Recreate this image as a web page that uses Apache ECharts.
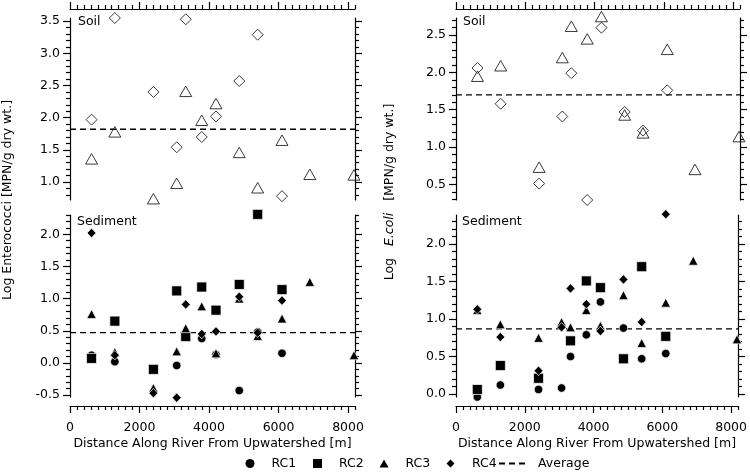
<!DOCTYPE html>
<html><head><meta charset="utf-8">
<script src="https://cdn.jsdelivr.net/npm/echarts@6/dist/echarts.min.js"></script>
<style>html,body{margin:0;padding:0;background:#fff}#c{width:750px;height:472px}</style>
</head><body><div id="c"></div>
<script>
// ---- data ----
const distances = [620, 1290, 2400, 3070, 3330, 3790, 4200, 4870, 5400, 6100, 6900, 8170];

// Enterococci, soil (hollow markers)
const entSoilDiamond  = [1.97, 3.55, 2.40, 1.54, 3.53, 1.70, 2.02, 2.57, 3.29, 0.78, null, null];
const entSoilTriangle = [1.36, 1.78, 0.74, 0.98, 2.41, 1.96, 2.22, 1.46, 0.91, 1.65, 1.12, 1.11];
const entSoilAverage = 1.82;
// Enterococci, sediment
const entSedRC1 = [0.12, 0.02, null, -0.04, null, 0.38, 0.13, -0.43, 0.48, 0.15, null, null];
const entSedRC2 = [0.07, 0.65, -0.10, 1.12, 0.41, 1.18, 0.82, 1.22, 2.31, 1.14, null, null];
const entSedRC3 = [0.76, 0.17, -0.39, 0.18, 0.54, 0.88, 0.15, 1.00, 0.42, 0.69, 1.26, 0.12];
const entSedRC4 = [2.02, 0.12, -0.47, -0.54, 0.91, 0.45, 0.49, 1.03, 0.47, 0.97, null, null];
const entSedAverage = 0.47;

// E. coli, soil (hollow markers)
const ecoSoilDiamond  = [2.06, 1.58, 0.51, 1.41, 1.99, 0.29, 2.60, 1.47, 1.22, 1.76, null, null];
const ecoSoilTriangle = [1.95, 2.09, 0.73, 2.20, 2.62, 2.45, 2.75, 1.43, 1.19, 2.31, 0.70, 1.14];
const ecoSoilAverage = 1.70;
// E. coli, sediment
const ecoSedRC1 = [-0.04, 0.12, 0.06, 0.08, 0.50, 0.79, 1.23, 0.88, 0.47, 0.54, null, null];
const ecoSedRC2 = [0.06, 0.38, 0.21, null, 0.71, 1.51, 1.42, 0.47, 1.70, 0.77, null, null];
const ecoSedRC3 = [1.12, 0.93, 0.75, 0.96, 0.89, 1.12, 0.91, 1.32, 0.68, 1.22, 1.78, 0.73];
const ecoSedRC4 = [1.13, 0.76, 0.31, 0.89, 1.41, 1.20, 0.84, 1.53, 0.96, 2.40, null, null];
const ecoSedAverage = 0.87;

// ---- tick labels ----
const xTickValues = [0, 2000, 4000, 6000, 8000];
const entSoilTicks = [1.0, 1.5, 2.0, 2.5, 3.0, 3.5];
const entSedTicks = [-0.5, 0.0, 0.5, 1.0, 1.5, 2.0];
const ecoSoilTicks = [0.5, 1.0, 1.5, 2.0, 2.5];
const ecoSedTicks = [0.0, 0.5, 1.0, 1.5, 2.0];
const legendNames = ['RC1', 'RC2', 'RC3', 'RC4', 'Average'];
const xTitle = 'Distance Along River From Upwatershed [m]';
const yTitleLeft = 'Log Enterococci [MPN/g dry wt.]';

// ---- helpers ----
const FONT = 'DejaVu Sans';
const FS = 12.5;
const axisLS = { color: '#000', width: 1.2 };
function pairs(vals) {
  const out = [];
  vals.forEach((v, i) => { if (v !== null) out.push([distances[i], v]); });
  return out;
}
function minorTicks(min, max, step, majors) {
  const out = [];
  for (let k = Math.ceil(min / step - 1e-9); k * step <= max + 1e-9; k++) {
    const v = Math.round(k * step * 1000) / 1000;
    if (!majors.some(m => Math.abs(m - v) < 1e-6)) out.push(v);
  }
  return out;
}

const XMAX = 8200;
const panels = [
  { left: 70, top: 18, width: 285, ymin: 0.72, ymax: 3.55, ticks: entSoilTicks, soil: true,
    dia: entSoilDiamond, tri: entSoilTriangle, avg: entSoilAverage },
  { left: 70, top: 215, width: 285, ymin: -0.53, ymax: 2.30, ticks: entSedTicks, soil: false,
    rc: [entSedRC1, entSedRC2, entSedRC3, entSedRC4], avg: entSedAverage },
  { left: 456, top: 18, width: 284, ymin: 0.29, ymax: 2.73, ticks: ecoSoilTicks, soil: true,
    dia: ecoSoilDiamond, tri: ecoSoilTriangle, avg: ecoSoilAverage },
  { left: 456, top: 215, width: 284, ymin: -0.04, ymax: 2.39, ticks: ecoSedTicks, soil: false,
    rc: [ecoSedRC1, ecoSedRC2, ecoSedRC3, ecoSedRC4], avg: ecoSedAverage }
];

const grid = [], xAxis = [], yAxis = [], series = [];
const xMinor = minorTicks(0, XMAX, 200, xTickValues);
const rcSymbols = [
  { symbol: 'circle', size: 8.5 },
  { symbol: 'rect', size: 10 },
  { symbol: 'triangle', size: [9.5, 9] },
  { symbol: 'diamond', size: [9, 9.5] }
];

panels.forEach((p, g) => {
  grid.push({ left: p.left, top: p.top, width: p.width, height: 182 });
  const pos = p.soil ? 'top' : 'bottom';
  xAxis.push({
    gridIndex: g, type: 'value', min: 0, max: XMAX, position: pos, offset: 9,
    axisLine: { show: true, onZero: false, lineStyle: axisLS },
    axisTick: { show: true, inside: false, length: 7, customValues: xTickValues, lineStyle: axisLS },
    axisLabel: { show: !p.soil, customValues: xTickValues, margin: 15, color: '#000', fontFamily: FONT, fontSize: FS,
                 formatter: v => String(v) },
    splitLine: { show: false },
    name: p.soil ? '' : xTitle, nameLocation: 'middle', nameGap: 31,
    nameTextStyle: { color: '#000', fontFamily: FONT, fontSize: FS }
  });
  xAxis.push({
    gridIndex: g, type: 'value', min: 0, max: XMAX, position: pos, offset: 9,
    axisLine: { show: false, onZero: false },
    axisTick: { show: true, inside: false, length: 4, customValues: xMinor, lineStyle: axisLS },
    axisLabel: { show: false }, splitLine: { show: false }
  });
  const yMinor = minorTicks(p.ymin, p.ymax, 0.1, p.ticks);
  ['left', 'right'].forEach(side => {
    yAxis.push({
      gridIndex: g, type: 'value', min: p.ymin, max: p.ymax, position: side,
      axisLine: { show: true, onZero: false, lineStyle: axisLS },
      axisTick: { show: true, inside: false, length: 7, customValues: p.ticks, lineStyle: axisLS },
      axisLabel: { show: side === 'left', customValues: p.ticks, margin: 10, color: '#000', fontFamily: FONT, fontSize: FS,
                   formatter: v => v.toFixed(1) },
      splitLine: { show: false }
    });
    yAxis.push({
      gridIndex: g, type: 'value', min: p.ymin, max: p.ymax, position: side,
      axisLine: { show: false, onZero: false },
      axisTick: { show: true, inside: false, length: 4, customValues: yMinor, lineStyle: axisLS },
      axisLabel: { show: false }, splitLine: { show: false }
    });
  });
  const xi = 2 * g, yi = 4 * g;
  series.push({
    name: 'Average', type: 'line', xAxisIndex: xi, yAxisIndex: yi,
    data: [[0, p.avg], [XMAX, p.avg]], symbol: 'none', silent: true,
    lineStyle: { color: '#000', width: 1.3, type: [6, 4] }, itemStyle: { color: '#000' }, z: 1
  });
  if (p.soil) {
    series.push({
      name: 'Soil triangle', type: 'scatter', xAxisIndex: xi, yAxisIndex: yi, clip: false,
      symbol: 'triangle', symbolSize: [12, 10.5], data: pairs(p.tri),
      itemStyle: { color: 'rgba(255,255,255,0)', borderColor: '#222', borderWidth: 0.9, opacity: 1 }, z: 3
    });
    series.push({
      name: 'Soil diamond', type: 'scatter', xAxisIndex: xi, yAxisIndex: yi, clip: false,
      symbol: 'diamond', symbolSize: [11, 11], data: pairs(p.dia),
      itemStyle: { color: 'rgba(255,255,255,0)', borderColor: '#222', borderWidth: 0.9, opacity: 1 }, z: 3
    });
  } else {
    p.rc.forEach((vals, k) => {
      series.push({
        name: legendNames[k], type: 'scatter', xAxisIndex: xi, yAxisIndex: yi, clip: false,
        symbol: rcSymbols[k].symbol, symbolSize: rcSymbols[k].size, data: pairs(vals),
        itemStyle: { color: '#000', borderColor: '#fff', borderWidth: 0.7, opacity: 1 }, z: 3 + k
      });
    });
  }
});

// legend: one component per entry so each sits where the reference has it
const legendLeft = [245.5, 313, 379.5, 446.5, 498];
const legendIconW = [9, 9, 9, 8, 29];
const legendIconH = [9, 9, 8, 8, 9];
const legendTextPad = [12, 12, 12, 12.5, 5];
const legend = legendNames.map((n, i) => ({
  data: [n], left: legendLeft[i], top: 457, padding: 0, orient: 'horizontal',
  itemWidth: legendIconW[i], itemHeight: legendIconH[i], selectedMode: false,
  itemStyle: i === 4 ? { color: 'rgba(0,0,0,0)', borderWidth: 0 } : { borderWidth: 0 },
  textStyle: { color: '#000', fontFamily: FONT, fontSize: FS, padding: [0, 0, 0, legendTextPad[i]] }
}));

const tStyle = (text, align) => ({
  text, fill: '#000', font: FS + 'px "' + FONT + '"',
  textAlign: align, align: align, textVerticalAlign: 'middle', verticalAlign: 'middle'
});
const graphic = [
  { type: 'text', x: 78, y: 22, style: tStyle('Soil', 'left') },
  { type: 'text', x: 77, y: 222, style: tStyle('Sediment', 'left') },
  { type: 'text', x: 463, y: 22, style: tStyle('Soil', 'left') },
  { type: 'text', x: 462, y: 222, style: tStyle('Sediment', 'left') },
  { type: 'text', x: 8, y: 200, rotation: Math.PI / 2, style: tStyle(yTitleLeft, 'center') },
  { type: 'text', x: 390, y: 192, rotation: Math.PI / 2,
    style: Object.assign(tStyle('Log   {i|E.coli}   [MPN/g dry wt.]', 'center'), {
      rich: { i: { fontStyle: 'italic', fontFamily: FONT, fontSize: FS, fill: '#000' } },
      fontFamily: FONT, fontSize: FS
    }) }
];

const chart = echarts.init(document.getElementById('c'), null, { renderer: 'canvas' });
chart.setOption({
  animation: false,
  backgroundColor: '#fff',
  textStyle: { fontFamily: FONT },
  grid, xAxis, yAxis, series, legend, graphic
});
</script>
</body></html>
